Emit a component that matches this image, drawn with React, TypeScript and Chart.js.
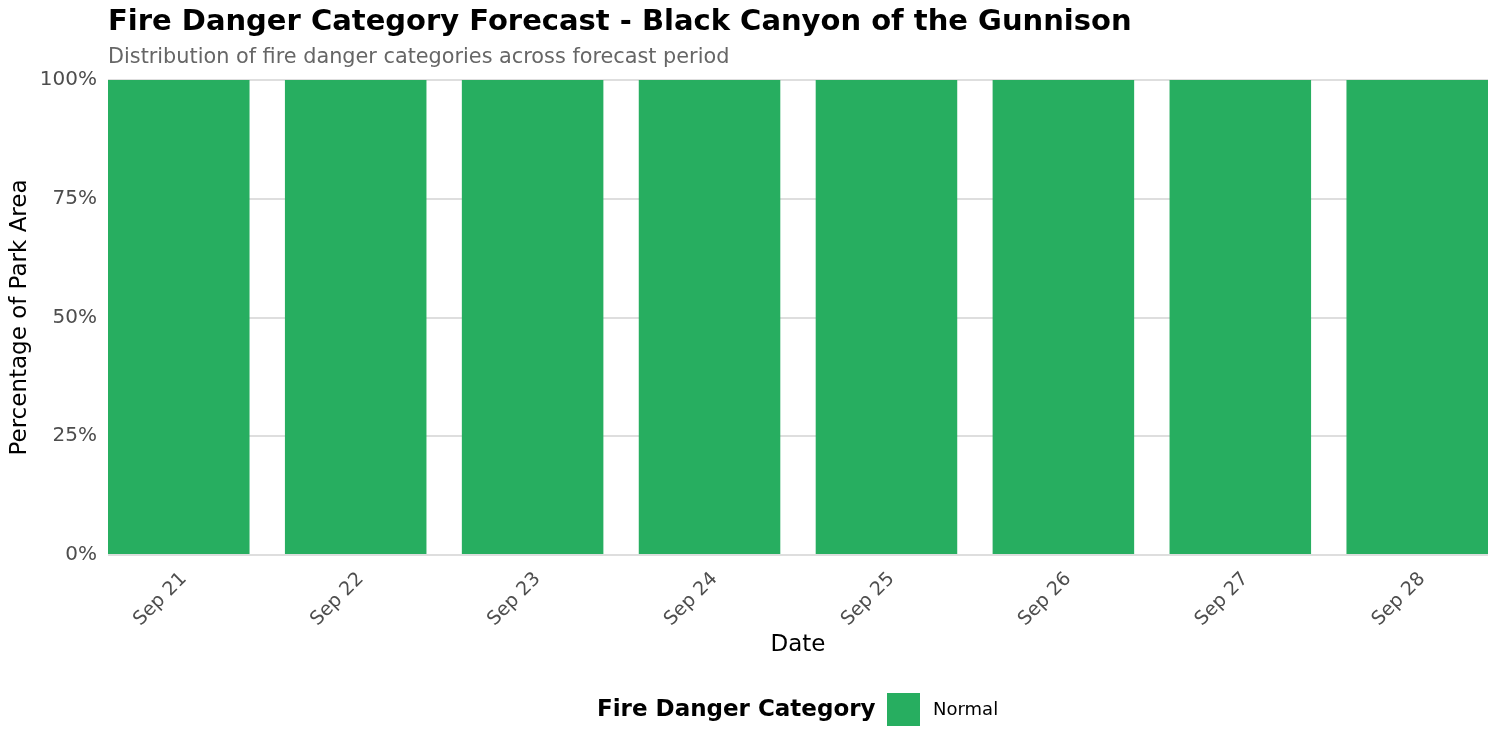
import React, { useEffect, useRef } from 'react';
import { Chart, registerables } from 'chart.js';

Chart.register(...registerables);

// forecast days and share of park area per category (percent)
const dates = ['Sep 21', 'Sep 22', 'Sep 23', 'Sep 24', 'Sep 25', 'Sep 26', 'Sep 27', 'Sep 28'];
const normalPct = [100, 100, 100, 100, 100, 100, 100, 100];
const yTicks = [0, 25, 50, 75, 100];

const FONT = '"DejaVu Sans", sans-serif';
const GREEN = '#27ae60';

const titlePlugin = {
  id: 'titles',
  afterDraw(chart: any) {
    const ctx = chart.ctx;
    ctx.save();
    ctx.textBaseline = 'middle';
    ctx.textAlign = 'left';
    ctx.fillStyle = '#000000';
    ctx.font = `bold 29px ${FONT}`;
    ctx.fillText('Fire Danger Category Forecast - Black Canyon of the Gunnison', 108, 22);
    ctx.fillStyle = '#666666';
    ctx.font = `20.8px ${FONT}`;
    ctx.fillText('Distribution of fire danger categories across forecast period', 108, 58);

    // legend at the bottom
    ctx.fillStyle = '#000000';
    ctx.font = `bold 23px ${FONT}`;
    ctx.fillText('Fire Danger Category', 597, 710);
    ctx.fillStyle = GREEN;
    ctx.fillRect(887, 693, 33, 33);
    ctx.fillStyle = '#000000';
    ctx.font = `18px ${FONT}`;
    ctx.fillText('Normal', 933, 710);
    ctx.restore();
  },
};

const App = () => {
  const canvasRef = useRef<HTMLCanvasElement>(null);

  useEffect(() => {
    const chart = new Chart(canvasRef.current as HTMLCanvasElement, {
      type: 'bar',
      data: {
        datasets: [
          {
            label: 'Normal',
            data: dates.map((_, i) => ({ x: i + 1, y: normalPct[i] })),
            backgroundColor: GREEN,
            borderWidth: 0,
            barPercentage: 0.8,
            categoryPercentage: 1,
          },
        ],
      },
      options: {
        responsive: false,
        animation: false,
        layout: { padding: { top: 80, right: 12, bottom: 80, left: 0 } },
        plugins: {
          legend: { display: false },
          tooltip: { enabled: false },
          title: { display: false },
        },
        scales: {
          x: {
            type: 'linear',
            min: 0.6,
            max: 8.4,
            offset: false,
            afterBuildTicks: (scale: any) => {
              scale.ticks = dates.map((_, i) => ({ value: i + 1 }));
            },
            afterFit: (scale: any) => {
              scale.height = 115;
            },
            grid: { display: false },
            border: { display: false },
            ticks: {
              callback: (v: any) => dates[Number(v) - 1],
              minRotation: 45,
              maxRotation: 45,
              padding: 5,
              labelOffset: 5,
              color: '#4d4d4d',
              font: { family: FONT, size: 19 },
            },
            title: {
              display: true,
              text: 'Date',
              color: '#000000',
              font: { family: FONT, size: 23 },
              padding: { top: 0, bottom: 11 },
            },
          },
          y: {
            min: 0,
            max: 100,
            afterBuildTicks: (scale: any) => {
              scale.ticks = yTicks.map((v) => ({ value: v }));
            },
            afterFit: (scale: any) => {
              scale.width = 108;
            },
            grid: { color: '#dedede', lineWidth: 2, drawTicks: false },
            border: { display: false },
            ticks: {
              callback: (v: any) => v + '%',
              padding: 11,
              color: '#4d4d4d',
              font: { family: FONT, size: 20 },
            },
            title: {
              display: true,
              text: 'Percentage of Park Area',
              color: '#000000',
              font: { family: FONT, size: 23 },
              padding: { top: 6, bottom: 0 },
            },
          },
        },
      },
      plugins: [titlePlugin],
    });
    return () => {
      chart.destroy();
    };
  }, []);

  return (
    <div style={{ position: 'absolute', left: 0, top: 0, width: 1500, height: 750, background: '#ffffff' }}>
      <canvas ref={canvasRef} width={1500} height={750}></canvas>
    </div>
  );
};

export default App;
